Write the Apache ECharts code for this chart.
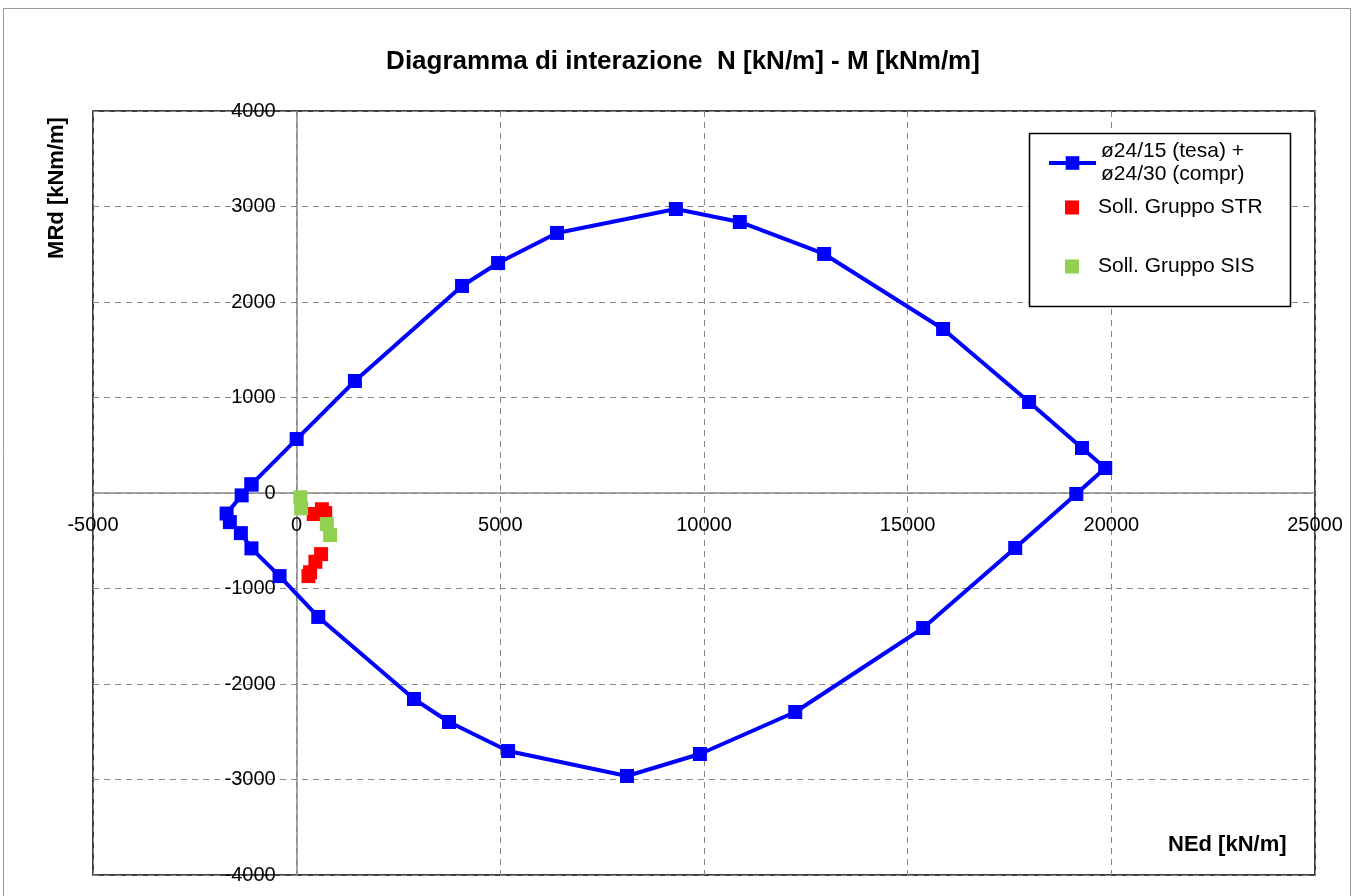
<!DOCTYPE html>
<html>
<head>
<meta charset="utf-8">
<script src="https://cdn.jsdelivr.net/npm/echarts@6/dist/echarts.min.js"></script>
<style>
html,body{margin:0;padding:0;background:#fff;}
#c{width:1355px;height:896px;}
</style>
</head>
<body>
<div id="c"></div>
<script>
// Interaction domain (N, M) points
const domainN = [-1110, 0, 1430, 4060, 4945, 6390, 9310, 10880, 12950, 15870, 17980, 19280, 19850, 19140, 17640, 15380, 12240, 9900, 8110, 5190, 3740, 2880, 530, -420, -1110, -1370, -1640, -1720, -1350, -1110];
const domainM = [90, 565, 1173, 2168, 2408, 2723, 2974, 2838, 2503, 1717, 953, 471, 262, -10, -576, -1414, -2293, -2733, -2963, -2702, -2398, -2157, -1298, -870, -580, -420, -305, -215, -25, 90];
// STR actions
const strN = [420, 620, 700, 600, 460, 330, 290];
const strM = [-220, -170, -210, -640, -720, -830, -870];
// SIS actions
const sisN = [90, 110, 740, 820];
const sisM = [-45, -160, -325, -440];

const xTicks = {min: -5000, max: 25000, interval: 5000};
const yTicks = {min: -4000, max: 4000, interval: 1000};

const seriesNames = ['ø24/15 (tesa) +\nø24/30 (compr)', 'Soll. Gruppo STR', 'Soll. Gruppo SIS'];
const titleText = 'Diagramma di interazione  N [kN/m] - M [kNm/m]';
const xName = 'NEd [kN/m]';
const yName = 'MRd [kNm/m]';

const zip = (a, b) => a.map((v, i) => [v, b[i]]);

const G = {left: 93, top: 111, right: 40, bottom: 21};
const W = 1355, H = 896;
const gw = W - G.left - G.right, gh = H - G.top - G.bottom;
// shift axes so that they sit on the zero lines
const xAxisOffset = -gh * (0 - yTicks.min) / (yTicks.max - yTicks.min);
const yAxisOffset = -gw * (0 - xTicks.min) / (xTicks.max - xTicks.min);

const chart = echarts.init(document.getElementById('c'), null, {renderer: 'canvas'});
const font = 'Liberation Sans, Arial, sans-serif';
chart.setOption({
  animation: false,
  backgroundColor: '#fff',
  title: {
    text: titleText,
    left: 678, top: 44, textAlign: 'center',
    textStyle: {fontFamily: font, fontSize: 26, fontWeight: 'bold', color: '#000'}
  },
  grid: Object.assign({show: true, borderColor: '#000', borderWidth: 1.5, backgroundColor: '#fff', containLabel: false, outerBoundsMode: 'none'}, G),
  xAxis: {
    type: 'value', min: xTicks.min, max: xTicks.max, interval: xTicks.interval,
    offset: xAxisOffset,
    axisLine: {onZero: false, lineStyle: {color: '#888', width: 1.5}},
    axisTick: {show: false},
    axisLabel: {margin: 22, fontFamily: font, fontSize: 20, color: '#000', showMinLabel: true, showMaxLabel: true, formatter: v => String(v)},
    splitLine: {show: true, lineStyle: {color: '#888', type: [6, 5], width: 1}}
  },
  yAxis: {
    type: 'value', min: yTicks.min, max: yTicks.max, interval: yTicks.interval,
    offset: yAxisOffset,
    axisLine: {onZero: false, lineStyle: {color: '#888', width: 1.5}},
    axisTick: {show: false},
    axisLabel: {margin: 21, fontFamily: font, fontSize: 20, color: '#000', showMinLabel: true, showMaxLabel: true, formatter: v => String(v)},
    splitLine: {show: true, lineStyle: {color: '#888', type: [6, 5], width: 1}}
  },
  legend: [
    {data: [seriesNames[0]], left: 1047, top: 140, padding: 0, itemWidth: 47, itemHeight: 17, z: 10,
     lineStyle: {width: 4},
     textStyle: {fontFamily: font, fontSize: 21, color: '#000', lineHeight: 23}},
    {data: [seriesNames[1]], left: 1065, top: 196, padding: 0, itemWidth: 14, itemHeight: 14, z: 10,
     textStyle: {fontFamily: font, fontSize: 21, color: '#000', lineHeight: 23, padding: [0, 0, 0, 14]}},
    {data: [seriesNames[2]], left: 1065, top: 255, padding: 0, itemWidth: 14, itemHeight: 14, z: 10,
     textStyle: {fontFamily: font, fontSize: 21, color: '#000', lineHeight: 23, padding: [0, 0, 0, 14]}}
  ],
  graphic: [
    {type: 'rect', shape: {x: 3.5, y: 8.5, width: 1347, height: 900}, style: {fill: 'none', stroke: '#999', lineWidth: 1}, silent: true, z: -10},
    {type: 'rect', shape: {x: 1029.5, y: 133.5, width: 261, height: 173}, style: {fill: '#fff', stroke: '#000', lineWidth: 1.5}, silent: true, z: 1},
    {type: 'text', left: 1168, top: 834, silent: true, z: 10,
     style: {text: xName, font: 'bold 22px Liberation Sans, Arial, sans-serif', fill: '#000'}},
    {type: 'text', x: 57, y: 188, rotation: Math.PI / 2, silent: true, z: 10,
     style: {text: yName, font: 'bold 22px Liberation Sans, Arial, sans-serif', fill: '#000', align: 'center', verticalAlign: 'middle'}}
  ],
  series: [
    {name: seriesNames[0], type: 'line', data: zip(domainN, domainM), symbol: 'rect', symbolSize: 14,
     lineStyle: {color: '#0000ff', width: 4}, itemStyle: {color: '#0000ff', opacity: 1}, z: 3},
    {name: seriesNames[1], type: 'scatter', data: zip(strN, strM), symbol: 'rect', symbolSize: 14,
     itemStyle: {color: '#ff0000', opacity: 1}, z: 4},
    {name: seriesNames[2], type: 'scatter', data: zip(sisN, sisM), symbol: 'rect', symbolSize: 14,
     itemStyle: {color: '#92d050', opacity: 1}, z: 4}
  ]
});
</script>
</body>
</html>
